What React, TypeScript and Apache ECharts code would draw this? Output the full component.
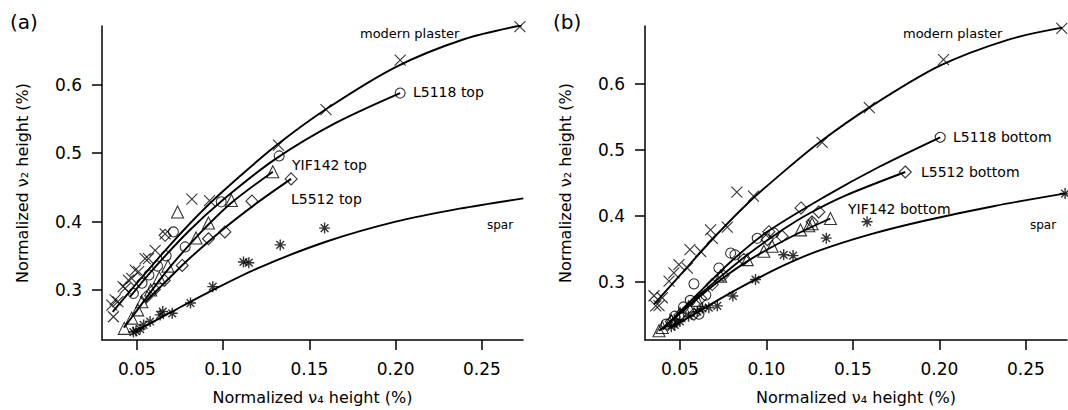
import React, { useEffect, useRef } from "react";
import * as echarts from "echarts";

// ---------- Panel (a) data: [v4 height, v2 height] ----------
const plasterA = [[0.0355,0.278],[0.0364,0.261],[0.0374,0.2855],[0.039,0.283],[0.042,0.305],[0.0432,0.3025],[0.0451,0.3145],[0.047,0.317],[0.049,0.329],[0.051,0.327],[0.0548,0.346],[0.0567,0.346],[0.0606,0.358],[0.0664,0.382],[0.0819,0.433],[0.0921,0.4306],[0.1321,0.512],[0.1596,0.5637],[0.2026,0.636],[0.272,0.685]];
const l5118A = [[0.048,0.295],[0.053,0.31],[0.057,0.322],[0.062,0.335],[0.067,0.35],[0.0712,0.385],[0.078,0.363],[0.0989,0.429],[0.1325,0.496],[0.2026,0.588]];
const yif142A = [[0.0427,0.244],[0.047,0.259],[0.0505,0.271],[0.0529,0.283],[0.058,0.3],[0.063,0.318],[0.068,0.335],[0.0736,0.414],[0.0843,0.376],[0.0915,0.398],[0.1048,0.431],[0.1288,0.473]];
const l5512A = [[0.0555,0.29],[0.0601,0.301],[0.0659,0.314],[0.0664,0.38],[0.0763,0.336],[0.0915,0.375],[0.101,0.385],[0.1167,0.43],[0.1394,0.4625]];
const sparA = [[0.048,0.2386],[0.0495,0.24],[0.0519,0.243],[0.0539,0.249],[0.0577,0.254],[0.0635,0.2637],[0.065,0.2686],[0.0705,0.266],[0.0811,0.281],[0.094,0.305],[0.1118,0.341],[0.1149,0.34],[0.1331,0.366],[0.1588,0.3906],[0.274,0.433]];

const plasterFitA = [[0.036,0.268],[0.05,0.31],[0.07,0.368],[0.09,0.421],[0.11,0.467],[0.13,0.51],[0.16,0.565],[0.2,0.626],[0.24,0.667],[0.273,0.687]];
const l5118FitA = [[0.046,0.29],[0.06,0.332],[0.08,0.386],[0.1,0.432],[0.13,0.491],[0.165,0.544],[0.2026,0.588]];
const yif142FitA = [[0.0425,0.245],[0.05,0.27],[0.06,0.304],[0.07,0.336],[0.08,0.365],[0.09,0.392],[0.105,0.428],[0.1288,0.473]];
const l5512FitA = [[0.055,0.283],[0.065,0.308],[0.08,0.345],[0.1,0.389],[0.12,0.428],[0.1394,0.4625]];
const sparFitA = [[0.048,0.238],[0.07,0.268],[0.094,0.3],[0.122,0.334],[0.16,0.371],[0.2,0.4],[0.237,0.419],[0.274,0.434]];

// ---------- Panel (b) data ----------
const plasterB = [[0.035,0.279],[0.036,0.2637],[0.0379,0.264],[0.0398,0.276],[0.0437,0.301],[0.0465,0.3137],[0.0494,0.326],[0.0543,0.321],[0.0558,0.3487],[0.062,0.346],[0.0677,0.3787],[0.0687,0.366],[0.0774,0.383],[0.0829,0.436],[0.0925,0.43],[0.1322,0.5114],[0.1595,0.564],[0.2024,0.6365],[0.2708,0.684]];
const l5118B = [[0.042,0.236],[0.047,0.248],[0.052,0.262],[0.056,0.272],[0.0581,0.297],[0.061,0.251],[0.065,0.28],[0.0725,0.321],[0.0793,0.3437],[0.0818,0.341],[0.0947,0.366],[0.1043,0.374],[0.2005,0.519]];
const l5512B = [[0.045,0.24],[0.05,0.25],[0.0581,0.251],[0.062,0.275],[0.0687,0.296],[0.075,0.31],[0.0869,0.334],[0.1005,0.364],[0.1014,0.376],[0.1091,0.369],[0.12,0.412],[0.1264,0.391],[0.1303,0.406],[0.1803,0.4664]];
const yif142B = [[0.0379,0.226],[0.0398,0.231],[0.045,0.242],[0.05,0.252],[0.055,0.262],[0.06,0.272],[0.0735,0.3087],[0.0889,0.3337],[0.0985,0.3463],[0.1033,0.354],[0.1197,0.3787],[0.1245,0.385],[0.1264,0.388],[0.137,0.396]];
const sparB = [[0.045,0.232],[0.047,0.235],[0.05,0.24],[0.055,0.248],[0.06,0.255],[0.063,0.26],[0.0667,0.261],[0.0716,0.2637],[0.0806,0.2787],[0.0937,0.3036],[0.11,0.341],[0.1154,0.3398],[0.1346,0.3662],[0.1582,0.391],[0.2727,0.4338]];

const plasterFitB = [[0.035,0.266],[0.05,0.31],[0.07,0.368],[0.09,0.421],[0.11,0.467],[0.13,0.51],[0.16,0.565],[0.2,0.627],[0.24,0.667],[0.271,0.685]];
const l5118FitB = [[0.04,0.228],[0.05,0.255],[0.06,0.281],[0.08,0.332],[0.1,0.375],[0.133,0.428],[0.165,0.474],[0.2005,0.519]];
const l5512FitB = [[0.04,0.228],[0.05,0.253],[0.07,0.3],[0.09,0.343],[0.11,0.38],[0.125,0.404],[0.145,0.43],[0.1803,0.4664]];
const yif142FitB = [[0.038,0.226],[0.05,0.252],[0.07,0.296],[0.09,0.333],[0.1164,0.371],[0.137,0.396]];
const sparFitB = [[0.045,0.231],[0.06,0.254],[0.075,0.277],[0.091,0.3],[0.11,0.325],[0.13,0.347],[0.16,0.372],[0.192,0.393],[0.232,0.415],[0.273,0.434]];

// ---------- ticks ----------
const xTicks = [0.05, 0.1, 0.15, 0.2, 0.25];
const yTicks = [0.3, 0.4, 0.5, 0.6];

const FONT = "DejaVu Sans";
const CROSS = "path://M0,0L10,10M10,0L0,10";
const STAR = "path://M5,0L5,10M0,5L10,5M1.5,1.5L8.5,8.5M8.5,1.5L1.5,8.5";

function scatter(data: number[][], symbol: string, size: number, idx: number, bw = 1.1) {
  return {
    type: "scatter",
    xAxisIndex: idx,
    yAxisIndex: idx,
    data,
    symbol,
    symbolSize: size,
    z: 3,
    itemStyle: { color: "rgba(0,0,0,0)", borderColor: "#000", borderWidth: bw },
  };
}
function fit(data: number[][], idx: number) {
  return {
    type: "line",
    xAxisIndex: idx,
    yAxisIndex: idx,
    data,
    smooth: 0.3,
    showSymbol: false,
    symbol: "none",
    z: 2,
    lineStyle: { color: "#000", width: 1.9 },
  };
}

function xAxis(idx: number) {
  return {
    type: "value",
    gridIndex: idx,
    min: 0.0298,
    max: 0.2738,
    splitLine: { show: false },
    axisLine: { show: true, lineStyle: { color: "#000", width: 1.5 } },
    axisTick: { show: true, length: 10, customValues: xTicks, lineStyle: { color: "#000", width: 1.5 } },
    axisLabel: { customValues: xTicks, margin: 20, fontSize: 17, color: "#000", fontFamily: FONT, formatter: (v: number) => v.toFixed(2) },
    name: "Normalized ν₄ height (%)",
    nameLocation: "middle",
    nameGap: 49,
    nameTextStyle: { fontSize: 16, color: "#000", fontFamily: FONT },
  };
}
function yAxis(idx: number, min: number, max: number) {
  return {
    type: "value",
    gridIndex: idx,
    min,
    max,
    splitLine: { show: false },
    axisLine: { show: true, lineStyle: { color: "#000", width: 1.5 } },
    axisTick: { show: true, length: 10, customValues: yTicks, lineStyle: { color: "#000", width: 1.5 } },
    axisLabel: { customValues: yTicks, margin: 20, fontSize: 17, color: "#000", fontFamily: FONT, formatter: (v: number) => v.toFixed(1) },
    name: "Normalized ν₂ height (%)",
    nameLocation: "middle",
    nameGap: 72,
    nameTextStyle: { fontSize: 16, color: "#000", fontFamily: FONT },
  };
}

function label(text: string, x: number, y: number, size: number) {
  return {
    type: "text",
    x,
    y,
    style: { text, fontSize: size, fill: "#000", fontFamily: FONT, verticalAlign: "middle", align: "left" },
  };
}

export default function App() {
  const ref = useRef<HTMLDivElement>(null);
  useEffect(() => {
    if (!ref.current) return;
    const chart = echarts.init(ref.current, null, { renderer: "svg" });
    chart.setOption({
      animation: false,
      backgroundColor: "#fff",
      grid: [
        { left: 102, top: 26, width: 421, height: 316 },
        { left: 645, top: 26, width: 422, height: 317 },
      ],
      xAxis: [xAxis(0), xAxis(1)],
      yAxis: [yAxis(0, 0.227, 0.686), yAxis(1, 0.212, 0.6875)],
      series: [
        fit(plasterFitA, 0), fit(l5118FitA, 0), fit(yif142FitA, 0), fit(l5512FitA, 0), fit(sparFitA, 0),
        scatter(plasterA, CROSS, 11, 0),
        scatter(l5118A, "circle", 10, 0),
        scatter(yif142A, "triangle", 12, 0),
        scatter(l5512A, "diamond", 12, 0),
        scatter(sparA, STAR, 11, 0, 1.4),
        fit(plasterFitB, 1), fit(l5118FitB, 1), fit(l5512FitB, 1), fit(yif142FitB, 1), fit(sparFitB, 1),
        scatter(plasterB, CROSS, 11, 1),
        scatter(l5118B, "circle", 10, 1),
        scatter(l5512B, "diamond", 12, 1),
        scatter(yif142B, "triangle", 12, 1),
        scatter(sparB, STAR, 11, 1, 1.4),
      ],
      graphic: [
        label("(a)", 10, 22, 20),
        label("(b)", 553, 22, 20),
        label("modern plaster", 360, 33, 13),
        label("L5118 top", 413, 92, 14),
        label("YIF142 top", 292, 165, 14),
        label("L5512 top", 291, 199, 14),
        label("spar", 487, 225, 12),
        label("modern plaster", 903, 33, 13),
        label("L5118 bottom", 953, 137, 14),
        label("L5512 bottom", 921, 172, 14),
        label("YIF142 bottom", 848, 209, 14),
        label("spar", 1030, 225, 12),
      ],
    });
    return () => chart.dispose();
  }, []);
  return <div ref={ref} style={{ position: "fixed", left: 0, top: 0, width: 1068, height: 410 }} />;
}
